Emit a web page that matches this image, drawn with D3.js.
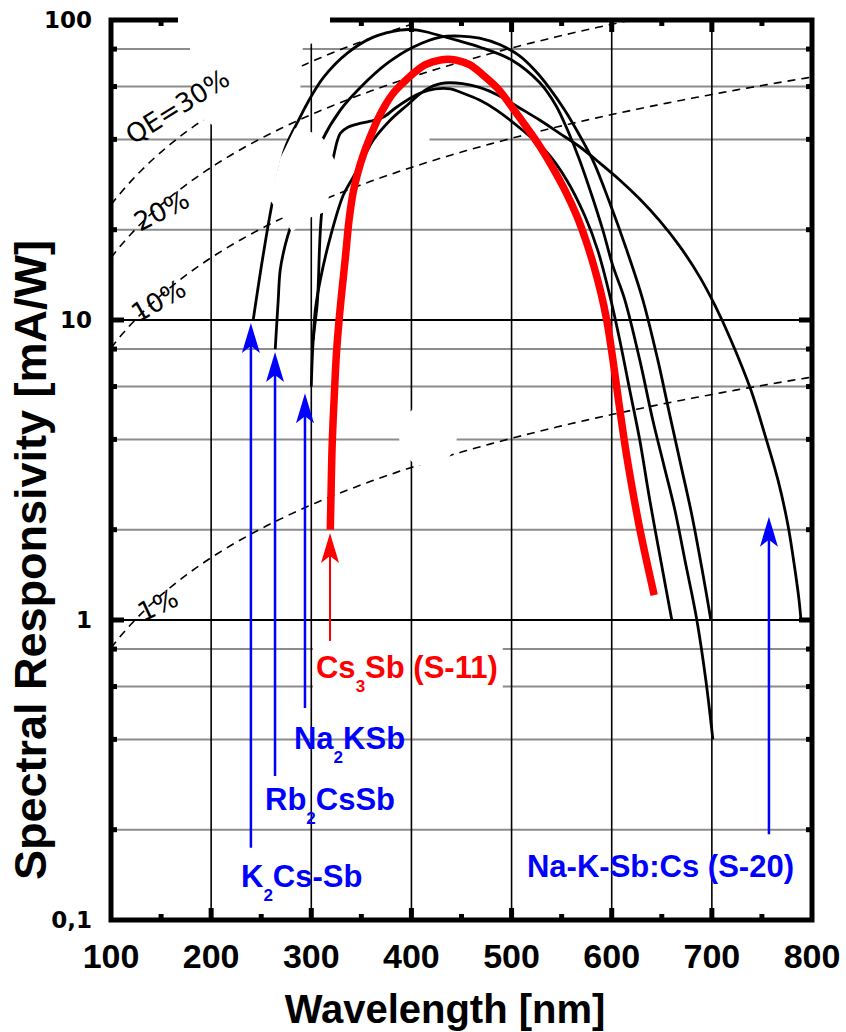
<!DOCTYPE html>
<html>
<head>
<meta charset="utf-8">
<script src="https://cdn.jsdelivr.net/npm/d3@7"></script>
<style>
  body { margin: 0; background: #fff; }
  svg { display: block; }
</style>
</head>
<body>
<div id="chart"></div>
<script>
// --- data: wavelength [nm], spectral responsivity [mA/W] ---
const k2csSb = [[242,10],[252,16.5],[262,25.5],[274,37.5],[289,47.5],[297,53.5],[312,64.3],[336,77.6],[362,87.7],[389,92.6],[406,92.6],[419,90.5],[444,85.8],[468,81.3],[500,73.6],[528,61.9],[544,52.1],[556,42.9],[568,34.1],[580,26.1],[591,20.0],[601,15.2],[613,11.7],[628,7.36],[641,4.64],[652,3.29],[663,2.33],[674,1.53],[685,1.0],[694,0.63],[701,0.4]];
const rb2csSb = [[264,8.0],[267,11.7],[269,14.7],[274,17.8],[279,20.3],[311,39.8],[329,50.1],[349,59.6],[376,71.8],[402,81.3],[429,87.7],[449,88.4],[468,87.0],[488,82.8],[508,75.9],[523,68.1],[538,59.2],[553,50.1],[568,41.2],[582,33.6],[597,25.1],[615,17.1],[631,11.7],[646,7.36],[658,4.82],[669,3.29],[680,2.24],[690,1.49],[699,1.0]];
const na2kSb = [[300,6.0],[302,8.6],[306,11.4],[311,23.8],[321,33.6],[329,41.9],[337,44.0],[346,45.0],[359,46.0],[372,47.5],[384,50.9],[396,54.1],[409,57.1],[424,58.9],[439,58.9],[451,57.1],[468,54.1],[485,50.1],[511,42.9],[535,36.3],[555,29.3],[573,22.3],[586,17.1],[598,12.1],[608,8.58],[618,5.84],[628,3.98],[638,2.51],[649,1.58],[660,1.0]];
const s20 = [[302,8.6],[304,10.8],[309,13.6],[319,18.9],[332,26.1],[342,30.0],[351,34.1],[362,39.8],[379,46.4],[396,52.1],[414,58.5],[429,61.4],[451,61.4],[468,59.6],[488,55.8],[508,50.9],[528,46.4],[548,41.9],[568,37.8],[588,33.4],[608,29.3],[628,25.3],[648,21.4],[668,17.6],[688,13.9],[703,11.2],[719,8.58],[739,5.84],[753,4.14],[766,2.93],[776,2.07],[783,1.47],[787,1.17],[789,1.0]];
const cs3Sb = [[319,2.0],[320,2.93],[321,3.98],[323,5.62],[325,7.62],[328,10.2],[331,12.9],[334,16.1],[337.7,21.5],[341.7,26.5],[346.6,31.1],[352.6,36.0],[358.6,40.6],[366,46.4],[374,52.1],[382,57.1],[392,61.9],[402,66.4],[414,71.0],[429,73.6],[444,73.6],[458,71.0],[471,65.8],[486,59.2],[501,50.9],[515,43.9],[528,38.0],[541,32.2],[554,26.8],[565,22.3],[574,18.5],[582,15.2],[589,12.4],[595,10.0],[599.8,7.94],[604.7,6.06],[609.6,4.64],[614.8,3.55],[620.8,2.71],[627.3,2.07],[634.7,1.58],[642.4,1.21]];

// constant quantum efficiency guide lines [%]
const qeLevels = [1, 10, 20, 30];
const qeLabels = ["1%", "10%", "20%", "QE=30%"];
const qeLabelAnchors = [[132, 0.985], [127, 9.77], [129, 19.7], [122, 38.3]];
const hcOverE = 1239.84; // nm·W/A

// axes
const wavelengthTicks = [100, 200, 300, 400, 500, 600, 700, 800];
const wavelengthMinor = [150, 250, 350, 450, 550, 650, 750];
const respTicks = [0.1, 1, 10, 100];
const respTickLabels = ["0,1", "1", "10", "100"];
const respMinor = [0.2, 0.4, 0.6, 0.8, 2, 4, 6, 8, 20, 40, 60, 80];

// arrows: [wavelength, tip value, tail value]
const arrowData = [[239.7, 9.77, 0.174], [263.8, 7.82, 0.302], [293.7, 5.7, 0.509], [318.7, 1.95, 0.851], [757, 2.21, 0.193]];
const arrowLabelAnchors = [[229.8, 0.129], [253.8, 0.233], [282.7, 0.372], [304.7, 0.641], [515.4, 0.139]];
const arrowLabels = [["K", "2", "Cs-Sb"], ["Rb", "2", "CsSb"], ["Na", "2", "KSb"], ["Cs", "3", "Sb (S-11)"], ["Na-K-Sb:Cs (S-20)", "", ""]];

// erased patches of the original scan
const erasePolys = [
  [[166.9,116],[318.7,116],[318.7,84.3],[291.7,83.0],[288.7,56.2],[273.8,49.1],[228.8,46.4],[202.9,44.3],[188.9,47.1],[180.9,54.1],[178.9,80.8],[166.9,92.6]],
  [[258.8,25.1],[264.8,30.3],[268.8,34.5],[283.7,43.6],[299.7,42.3],[311.7,40.3],[325.7,32.9],[313.7,22.9],[299.7,22.0],[280.7,19.7]]
];
const eraseSpots = [[416.5, 4.11]];

const W = 846, H = 1032;
const x = d3.scaleLinear().domain([100, 800]).range([111, 812]);
const y = d3.scaleLog().domain([0.1, 100]).range([920, 20]);

const svg = d3.select("#chart").append("svg").attr("width", W).attr("height", H);
svg.append("defs").append("clipPath").attr("id", "plot").append("rect")
  .attr("x", x(100)).attr("y", y(100))
  .attr("width", x(800) - x(100)).attr("height", y(0.1) - y(100));

const bold = "'Liberation Sans', Arial, sans-serif";

// horizontal grid
const hgrid = svg.append("g");
hgrid.selectAll("line.minor").data(respMinor).join("line").attr("class", "minor")
  .attr("x1", x(100)).attr("x2", x(800)).attr("y1", d => y(d)).attr("y2", d => y(d))
  .attr("stroke", "#8c8c8c").attr("stroke-width", 2);
hgrid.selectAll("line.major").data([1, 10]).join("line").attr("class", "major")
  .attr("x1", x(100)).attr("x2", x(800)).attr("y1", d => y(d)).attr("y2", d => y(d))
  .attr("stroke", "#000").attr("stroke-width", 1.8);
// gap in the 40 mA/W line
hgrid.append("rect").attr("x", x(289)).attr("width", x(418) - x(289))
  .attr("y", y(40) - 3).attr("height", 6).attr("fill", "#fff");

const boxLayer = svg.append("g");

// vertical grid
svg.append("g").selectAll("line").data(wavelengthTicks.slice(1, -1)).join("line")
  .attr("x1", d => x(d)).attr("x2", d => x(d)).attr("y1", y(100)).attr("y2", y(0.1))
  .attr("stroke", "#000").attr("stroke-width", 1.6);

// QE guide lines
const qeLine = d3.line().x(d => x(d[0])).y(d => y(d[1]));
const lambdas = d3.range(100, 801, 5);
svg.append("g").attr("clip-path", "url(#plot)")
  .selectAll("path").data(qeLevels).join("path")
  .attr("d", q => qeLine(lambdas.map(l => [l, q * l * 10 / hcOverE])))
  .attr("fill", "none").attr("stroke", "#000").attr("stroke-width", 1.6)
  .attr("stroke-dasharray", "8,6");

// response curves
const curve = d3.line().x(d => x(d[0])).y(d => y(d[1])).curve(d3.curveCatmullRom.alpha(0.5));
const curves = svg.append("g").attr("fill", "none").attr("stroke-linecap", "butt");
[k2csSb, rb2csSb, na2kSb, s20].forEach(c => {
  curves.append("path").attr("d", curve(c)).attr("stroke", "#000").attr("stroke-width", 2.8);
});
curves.append("path").attr("d", curve(cs3Sb)).attr("stroke", "#ff0000").attr("stroke-width", 7.5);

// frame and ticks
const frame = svg.append("g").attr("stroke", "#000");
frame.append("rect").attr("x", x(100)).attr("y", y(100))
  .attr("width", x(800) - x(100)).attr("height", y(0.1) - y(100))
  .attr("fill", "none").attr("stroke-width", 5);
function vTicks(vals, len) {
  frame.selectAll(null).data(vals).join("line")
    .attr("x1", d => x(d)).attr("x2", d => x(d)).attr("y1", y(0.1)).attr("y2", y(0.1) - len)
    .attr("stroke-width", 5);
  frame.selectAll(null).data(vals).join("line")
    .attr("x1", d => x(d)).attr("x2", d => x(d)).attr("y1", y(100)).attr("y2", y(100) + len)
    .attr("stroke-width", 5);
}
function hTicks(vals, len) {
  frame.selectAll(null).data(vals).join("line")
    .attr("x1", x(100)).attr("x2", x(100) + len).attr("y1", d => y(d)).attr("y2", d => y(d))
    .attr("stroke-width", 5);
  frame.selectAll(null).data(vals).join("line")
    .attr("x1", x(800)).attr("x2", x(800) - len).attr("y1", d => y(d)).attr("y2", d => y(d))
    .attr("stroke-width", 5);
}
vTicks(wavelengthTicks.slice(1, -1), 12);
vTicks(wavelengthMinor, 6);
hTicks([1, 10], 13);
hTicks(respMinor, 6);

// erased patches
const erase = svg.append("g").attr("fill", "#fff");
erase.selectAll("polygon").data(erasePolys).join("polygon")
  .attr("points", p => p.map(d => [x(d[0]), y(d[1])].join(",")).join(" "));
erase.selectAll("ellipse").data(eraseSpots).join("ellipse")
  .attr("cx", d => x(d[0])).attr("cy", d => y(d[1])).attr("rx", 29).attr("ry", 31);

// QE labels
svg.append("g").selectAll("text").data(qeLabels).join("text")
  .attr("transform", (d, i) => `translate(${x(qeLabelAnchors[i][0])},${y(qeLabelAnchors[i][1])}) rotate(${[-25, -30, -27, -32][i]})`)
  .attr("font-family", "'DejaVu Sans', sans-serif").attr("font-size", 26)
  .text(d => d);

// arrows + labels
const ann = svg.append("g");
arrowData.forEach((a, i) => {
  const col = i === 3 ? "#ff0000" : "#0000ff";
  const ax = x(a[0]), tip = y(a[1]), tail = y(a[2]);
  ann.append("line").attr("x1", ax).attr("x2", ax).attr("y1", tip + 20).attr("y2", tail)
    .attr("stroke", col).attr("stroke-width", i === 3 ? 2 : 2.5);
  ann.append("path")
    .attr("d", `M${ax},${tip} L${ax - 9},${tip + 30} L${ax},${tip + 23} L${ax + 9},${tip + 30} Z`)
    .attr("fill", col);

  const lab = arrowLabels[i];
  const t = ann.append("text")
    .attr("x", x(arrowLabelAnchors[i][0])).attr("y", y(arrowLabelAnchors[i][1]))
    .attr("font-family", bold).attr("font-weight", "bold").attr("font-size", 31).attr("fill", col);
  t.append("tspan").text(lab[0]);
  if (lab[1]) {
    t.append("tspan").attr("font-size", 17).attr("dy", 14).text(lab[1]);
    t.append("tspan").attr("dy", -14).text(lab[2]);
  }
  if (i === 3) {
    const bb = t.node().getBBox();
    boxLayer.append("rect").attr("x", bb.x - 3).attr("y", bb.y - 3)
      .attr("width", bb.width + 8).attr("height", bb.height + 8).attr("fill", "#fff");
  }
});

// tick labels
svg.append("g").selectAll("text").data(wavelengthTicks).join("text")
  .attr("x", d => x(d)).attr("y", 968).attr("text-anchor", "middle")
  .attr("font-family", bold).attr("font-weight", "bold").attr("font-size", 34)
  .text(d => d);
svg.append("g").selectAll("text").data(respTicks).join("text")
  .attr("x", 92).attr("y", d => y(d)).attr("dy", "0.36em").attr("text-anchor", "end")
  .attr("font-family", "'DejaVu Sans', sans-serif").attr("font-weight", "bold").attr("font-size", 23)
  .text((d, i) => respTickLabels[i]);

// axis titles
svg.append("text").attr("x", 445).attr("y", 1023).attr("text-anchor", "middle")
  .attr("font-family", bold).attr("font-weight", "bold").attr("font-size", 40)
  .text("Wavelength [nm]");
svg.append("text").attr("transform", "translate(46,560) rotate(-90)").attr("text-anchor", "middle")
  .attr("font-family", bold).attr("font-weight", "bold").attr("font-size", 45)
  .text("Spectral Responsivity [mA/W]");
</script>
</body>
</html>
